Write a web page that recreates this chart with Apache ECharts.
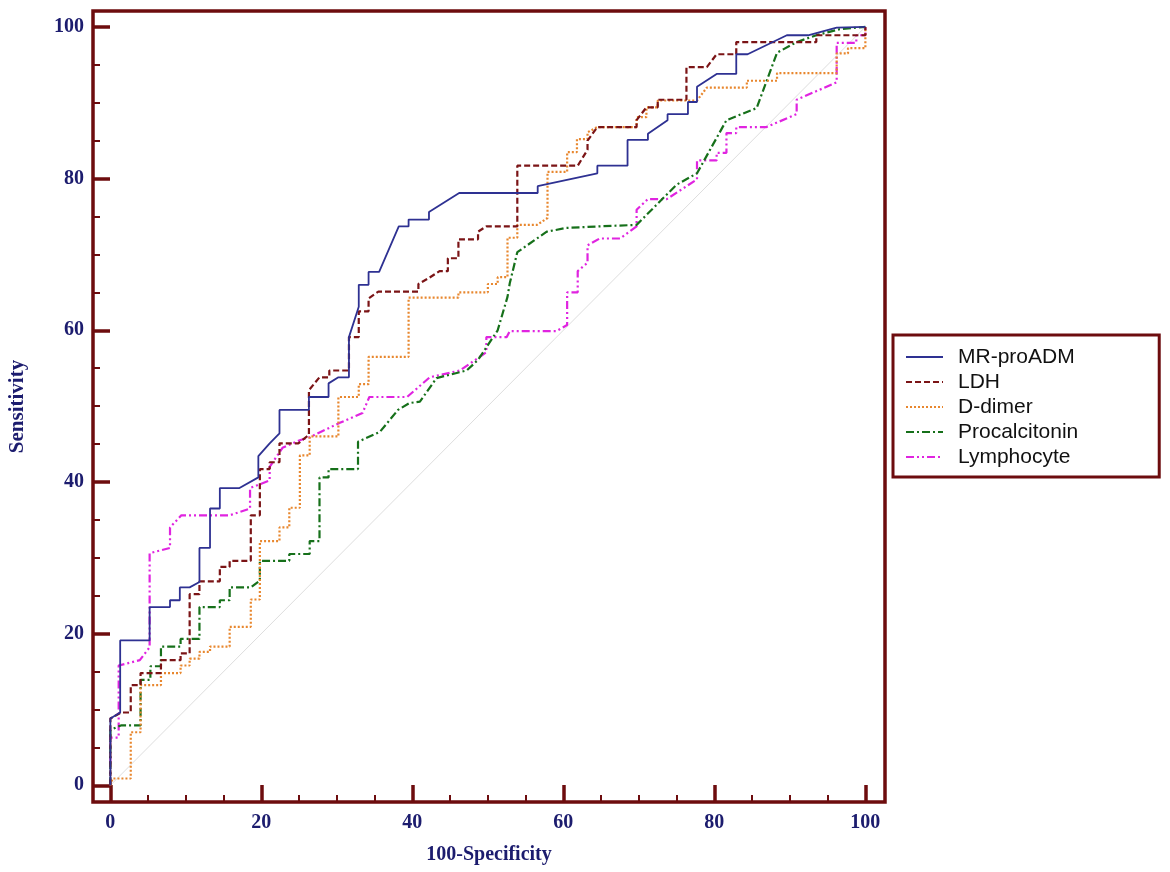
<!DOCTYPE html>
<html>
<head>
<meta charset="utf-8">
<script src="https://cdn.jsdelivr.net/npm/echarts@6/dist/echarts.min.js"></script>
<style>
  html, body { margin: 0; padding: 0; background: #fff; }
  #chart { width: 1170px; height: 872px; }
</style>
</head>
<body>
<div id="chart"></div>
<script>
// ROC curves, values as [100-specificity, sensitivity]
const seriesNames = ['MR-proADM', 'LDH', 'D-dimer', 'Procalcitonin', 'Lymphocyte'];

const mrProAdm = [
  [0,0],[0,8.8],[1.3,9.6],[1.3,19.1],[5.2,19.1],[5.2,23.5],[7.9,23.5],[7.9,24.4],[9.2,24.4],[9.2,26.1],
  [10.5,26.1],[11.8,26.8],[11.8,31.3],[13.2,31.3],[13.2,36.5],[14.5,36.5],[14.5,39.2],[17.1,39.2],
  [19.6,40.6],[19.6,43.4],[21.1,45.1],[22.4,46.4],[22.4,49.5],[26.3,49.5],[26.3,51.2],[28.9,51.2],
  [28.9,53],[30.2,53.8],[31.6,53.8],[31.6,59.1],[32.9,63.1],[32.9,66],[34.2,66],[34.2,67.7],[35.6,67.7],
  [38.2,73.7],[39.5,73.7],[39.5,74.6],[42.2,74.6],[42.2,75.6],[46.2,78.1],[56.6,78.1],[56.6,79],
  [64.5,80.7],[64.5,81.7],[68.5,81.7],[68.5,85.1],[71.2,85.1],[71.2,85.9],[73.8,87.7],[73.8,88.5],
  [76.5,88.5],[76.5,90.1],[77.7,90.1],[77.7,92.1],[80.3,93.8],[82.9,93.8],[82.9,96.4],[84.4,96.4],
  [89.6,98.9],[92.4,98.9],[96.2,99.9],[100,100]
];

const ldh = [
  [0,0],[0,8.8],[1.4,9.6],[2.7,9.6],[2.7,13.2],[4,13.2],[4,14.8],[6.7,14.8],[6.7,16.5],[9.3,16.5],
  [9.3,17.4],[10.5,17.4],[10.5,25.2],[11.8,25.2],[11.8,26.9],[14.5,26.9],[14.5,28.8],[15.8,28.8],
  [15.8,29.6],[18.6,29.6],[18.6,35.6],[19.8,35.6],[19.8,41.7],[21.1,41.7],[21.1,42.6],[22.4,42.6],
  [22.4,45.1],[24.9,45.1],[26.3,46.2],[26.3,52.1],[27.7,53.8],[29,53.8],[29,54.7],[31.6,54.7],
  [31.6,59.1],[32.9,59.1],[32.9,62.5],[34.2,62.5],[34.2,64.2],[35.5,65.1],[40.8,65.1],[40.8,66.1],
  [42.2,66.9],[43.6,67.8],[44.7,67.8],[44.7,69.5],[46.1,69.5],[46.1,72],[48.7,72],[48.7,73],
  [49.8,73.7],[53.9,73.7],[53.9,81.7],[61.9,81.7],[63.2,83.8],[63.2,85],[64.5,86.8],[69.7,86.8],
  [69.7,87.7],[71,89.4],[72.5,89.4],[72.5,90.4],[76.3,90.4],[76.3,94.7],[79,94.7],[80.3,96.4],
  [82.9,96.4],[82.9,98],[93.5,98],[93.5,98.9],[100,98.9],[100,100]
];

const dDimer = [
  [0,0],[0.3,0.9],[2.7,0.9],[2.7,7],[4,7],[4,13.2],[6.7,13.2],[6.7,14.8],[9.3,14.8],[9.3,15.8],
  [10.5,15.8],[10.5,16.7],[11.8,16.7],[11.8,17.6],[13.2,17.6],[13.2,18.3],[15.8,18.3],[15.8,20.9],
  [18.6,20.9],[18.6,24.5],[19.8,24.5],[19.8,32.2],[22.4,32.2],[22.4,34],[23.7,34],[23.7,36.6],
  [25.1,36.6],[25.1,43.5],[26.4,43.5],[26.4,46],[30.2,46],[30.2,51.2],[32.9,51.2],[32.9,52.9],
  [34.2,52.9],[34.2,56.5],[39.5,56.5],[39.5,64.3],[46.1,64.3],[46.1,65],[50,65],[50,66.1],[51.3,66.1],
  [51.3,67],[52.6,67],[52.6,72.2],[53.9,72.2],[53.9,73.9],[56.5,73.9],[57.9,74.8],[57.9,80.9],
  [60.5,80.9],[60.5,83.5],[61.8,83.5],[61.8,85.2],[63.2,85.2],[63.2,86.1],[64.5,86.8],[69.7,86.8],
  [69.7,88.1],[71,88.1],[71,89.4],[72.5,89.4],[72.5,90.3],[77.7,90.3],[79,92],[84.3,92],[84.3,92.9],
  [88.3,92.9],[88.3,93.9],[96.2,93.9],[96.2,96.5],[97.7,96.5],[97.7,97.2],[100,97.2],[100,100]
];

const procalcitonin = [
  [0,0],[0,7.3],[1.4,7.9],[4,7.9],[4,13.9],[5.3,13.9],[5.3,15.7],[6.7,15.7],[6.7,18.3],[9.3,18.3],
  [9.3,19.3],[11.8,19.3],[11.8,23.5],[14.5,23.5],[14.5,24.4],[15.8,24.4],[15.8,26.1],[18.6,26.1],
  [19.8,27],[19.8,29.6],[23.7,29.6],[23.7,30.5],[26.4,30.5],[26.4,32.2],[27.7,32.2],[27.7,40.6],
  [28.9,40.6],[28.9,41.7],[32.8,41.7],[32.8,45.3],[35.7,46.6],[38.1,49.5],[39.6,50.4],[41,50.6],
  [43.2,53.7],[47.2,54.7],[48.7,56.1],[51.3,60],[52.6,64.4],[52.9,66.2],[53.9,70.3],[57.8,73],
  [60.4,73.5],[64.8,73.7],[69.7,73.9],[75,79.2],[77.7,80.7],[81.6,87.7],[85.6,89.3],[88.3,96.6],
  [90.9,98],[93.5,98.9],[96.6,99.7],[100,100]
];

const lymphocyte = [
  [0,0],[0,6.3],[1.1,6.3],[1.1,15.8],[3.9,16.5],[5.2,18.2],[5.2,30.6],[7.9,31.3],[7.9,34],[9.4,35.6],
  [15.8,35.6],[18.5,36.5],[18.5,39.2],[21.1,40.2],[21.1,42],[22.8,44.5],[25.1,45.5],[26.4,45.9],
  [30.4,47.8],[33.4,49.1],[34.3,51.2],[39.3,51.2],[42.3,53.8],[46.3,54.7],[49.8,57.1],[49.8,59.1],
  [52.5,59.1],[52.9,59.9],[59.1,59.9],[60.5,60.7],[60.5,65],[61.9,65],[61.9,67.8],[63.2,68.9],
  [63.2,71.2],[64.8,72.1],[67.5,72.1],[69.7,73.7],[69.7,75.9],[71.2,77.3],[73.7,77.3],[77.7,79.9],
  [77.7,82.4],[80.3,82.4],[80.3,83.4],[81.6,83.4],[81.6,86],[82.9,86],[82.9,86.8],[86.9,86.8],
  [90.9,88.5],[90.9,90.4],[96.2,92.7],[96.2,97.9],[98.8,97.9],[98.8,98.9],[100,98.9],[100,100]
];

const chanceLine = [[0,0],[100,100]];

const majorTicks = [0, 20, 40, 60, 80, 100];
const minorTicks = [5, 10, 15, 25, 30, 35, 45, 50, 55, 65, 70, 75, 85, 90, 95];

const FRAME = '#6d0c0e';
const NAVY = '#1c1c6e';
const colors = ['#2e3192', '#7b1416', '#e8872e', '#16701a', '#e024e0'];
const dashes = ['solid', [6, 3], [2, 2], [8, 3, 2, 3], [8, 3, 2, 3, 2, 3]];
const curves = [mrProAdm, ldh, dDimer, procalcitonin, lymphocyte];

const labelFont = { fontFamily: 'Liberation Serif', fontWeight: 'bold', fontSize: 20, color: NAVY };

function axis(dim, major) {
  const isX = dim === 'x';
  return {
    type: 'value',
    min: isX ? -2.3 : -2.2,
    max: isX ? 102.6 : 102.1,
    position: isX ? 'bottom' : 'left',
    axisLine: { show: false, onZero: false },
    splitLine: { show: false },
    axisTick: {
      show: true,
      inside: true,
      length: major ? 17 : 7,
      customValues: major ? majorTicks : minorTicks,
      lineStyle: { color: FRAME, width: major ? 3.5 : 2 }
    },
    axisLabel: major
      ? { show: true, customValues: majorTicks, margin: isX ? 11 : 9, ...labelFont }
      : { show: false },
    name: major ? (isX ? '100-Specificity' : 'Sensitivity') : '',
    nameLocation: 'middle',
    nameGap: isX ? 43 : 65,
    nameTextStyle: { ...labelFont, fontSize: isX ? 20 : 21 }
  };
}

const chart = echarts.init(document.getElementById('chart'), null, { renderer: 'canvas' });

const series = [{
  name: 'chance',
  type: 'line',
  data: chanceLine,
  symbol: 'none',
  silent: true,
  lineStyle: { color: '#dedede', width: 1 },
  z: 1
}].concat(seriesNames.map((name, i) => ({
  name,
  type: 'line',
  data: curves[i],
  symbol: 'none',
  lineStyle: { color: colors[i], width: i === 0 ? 1.8 : 2.2, type: dashes[i] },
  itemStyle: { color: colors[i] },
  z: 10 - i
})));

chart.setOption({
  backgroundColor: '#fff',
  animation: false,
  grid: {
    left: 93, top: 11, right: 285, bottom: 70,
    outerBoundsMode: 'none',
    show: true, borderColor: FRAME, borderWidth: 3.5, backgroundColor: 'transparent'
  },
  xAxis: [axis('x', true), axis('x', false)],
  yAxis: [axis('y', true), axis('y', false)],
  legend: {
    data: seriesNames,
    orient: 'vertical',
    left: 893,
    top: 335,
    padding: [11, 81, 9, 12],
    borderColor: FRAME,
    borderWidth: 3,
    itemGap: 3,
    itemWidth: 37,
    itemHeight: 14,
    itemStyle: { opacity: 0 },
    lineStyle: { width: 2 },
    textStyle: { fontFamily: 'Liberation Sans', fontSize: 21, lineHeight: 22, color: '#111', padding: [0, 0, 0, 10] }
  },
  series
});
</script>
</body>
</html>
